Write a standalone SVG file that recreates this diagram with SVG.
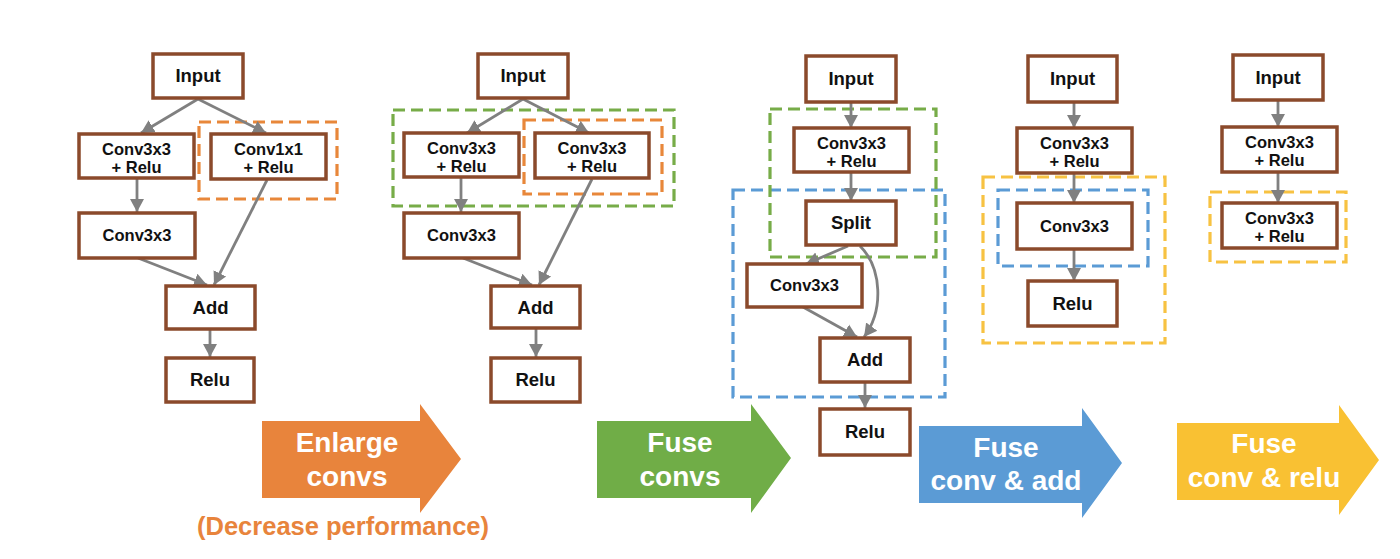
<svg xmlns="http://www.w3.org/2000/svg" width="1400" height="559" viewBox="0 0 1400 559">
<defs>
<marker id="ah" markerUnits="userSpaceOnUse" markerWidth="16" markerHeight="16" viewBox="0 0 16 16" refX="13" refY="8" orient="auto">
<path d="M0,1 L13,8 L0,15 Z" fill="#808080"/>
</marker>
<style>
.n{fill:#fff;stroke:#8B4A2B;stroke-width:3.5}
.t{font-family:"Liberation Sans",Arial,sans-serif;font-weight:bold;fill:#111;text-anchor:middle}
.big{font-size:18.5px}
.sm{font-size:16.5px}
.c{fill:none;stroke:#808080;stroke-width:2.8;marker-end:url(#ah)}
.d{fill:none;stroke-width:3.2;stroke-dasharray:12 6}
.do{stroke:#E8873A}.dg{stroke:#77AC48}.db{stroke:#5B9BD5}.dy{stroke:#F7C242}
.at{font-family:"Liberation Sans",Arial,sans-serif;font-weight:bold;font-size:28px;fill:#fff;text-anchor:middle}
</style>
</defs>
<rect width="1400" height="559" fill="#fff"/>

<g id="groups">
<rect class="d do" x="199" y="122" width="138" height="77"/>
<rect class="d dg" x="393" y="110" width="281" height="96"/>
<rect class="d do" x="524" y="120" width="138" height="74"/>
<rect class="d db" x="733" y="190" width="212" height="207"/>
<rect class="d dg" x="770" y="109" width="166" height="148"/>
<rect class="d dy" x="983" y="177" width="182" height="166"/>
<rect class="d db" x="998" y="190" width="150" height="76"/>
<rect class="d dy" x="1210" y="192" width="136" height="70"/>
</g>

<g id="connectors">
<path class="c" d="M198,99 L141,133"/>
<path class="c" d="M198,99 L266,133"/>
<path class="c" d="M137,178 L137,212"/>
<path class="c" d="M138,258 L207,285"/>
<path class="c" d="M267,180 L214,285"/>
<path class="c" d="M210,330 L210,357"/>

<path class="c" d="M523,99 L467,133"/>
<path class="c" d="M523,99 L589,133"/>
<path class="c" d="M461,177 L461,212"/>
<path class="c" d="M463,258 L532,285"/>
<path class="c" d="M592,179 L539,285"/>
<path class="c" d="M536,328 L536,357"/>

<path class="c" d="M851,102 L851,128"/>
<path class="c" d="M851,172 L851,201"/>
<path class="c" d="M848,246 L806,264"/>
<path class="c" d="M860,246 C882,268 884,310 864,337"/>
<path class="c" d="M803,307 L857,337"/>
<path class="c" d="M865,382 L865,408"/>

<path class="c" d="M1074,102 L1074,128"/>
<path class="c" d="M1074,173 L1074,203"/>
<path class="c" d="M1074,249 L1074,281"/>

<path class="c" d="M1278,100 L1278,127"/>
<path class="c" d="M1278,172 L1278,203"/>
</g>

<g id="in1"><rect class="n" x="153" y="54" width="90" height="44"/><text class="t big" x="198" y="82">Input</text></g>
<g id="c1a"><rect class="n" x="79" y="134" width="115" height="44"/><text class="t sm" x="136.5" y="155">Conv3x3</text><text class="t sm" x="136.5" y="173">+ Relu</text></g>
<g id="c1b"><rect class="n" x="211" y="134" width="115" height="45"/><text class="t sm" x="268.5" y="155">Conv1x1</text><text class="t sm" x="268.5" y="173">+ Relu</text></g>
<g id="c1c"><rect class="n" x="79" y="213" width="116" height="45"/><text class="t sm" x="137" y="241">Conv3x3</text></g>
<g id="add1"><rect class="n" x="166" y="286" width="89" height="43"/><text class="t big" x="210.5" y="314">Add</text></g>
<g id="relu1"><rect class="n" x="166" y="358" width="88" height="44"/><text class="t big" x="210" y="386">Relu</text></g>

<g id="in2"><rect class="n" x="478" y="54" width="90" height="44"/><text class="t big" x="523" y="82">Input</text></g>
<g id="c2a"><rect class="n" x="404" y="133" width="115" height="44"/><text class="t sm" x="461.5" y="154">Conv3x3</text><text class="t sm" x="461.5" y="172">+ Relu</text></g>
<g id="c2b"><rect class="n" x="535" y="133" width="114" height="45"/><text class="t sm" x="592" y="154">Conv3x3</text><text class="t sm" x="592" y="172">+ Relu</text></g>
<g id="c2c"><rect class="n" x="404" y="213" width="115" height="45"/><text class="t sm" x="461.5" y="241">Conv3x3</text></g>
<g id="add2"><rect class="n" x="491" y="286" width="89" height="42"/><text class="t big" x="535.5" y="314">Add</text></g>
<g id="relu2"><rect class="n" x="491" y="358" width="89" height="44"/><text class="t big" x="535.5" y="386">Relu</text></g>

<g id="in3"><rect class="n" x="806" y="56" width="90" height="46"/><text class="t big" x="851" y="85">Input</text></g>
<g id="c3a"><rect class="n" x="794" y="128" width="115" height="44"/><text class="t sm" x="851.5" y="149">Conv3x3</text><text class="t sm" x="851.5" y="167">+ Relu</text></g>
<g id="split3"><rect class="n" x="806" y="201" width="90" height="44"/><text class="t big" x="851" y="229">Split</text></g>
<g id="c3b"><rect class="n" x="747" y="264" width="115" height="43"/><text class="t sm" x="804.5" y="291">Conv3x3</text></g>
<g id="add3"><rect class="n" x="820" y="338" width="90" height="44"/><text class="t big" x="865" y="366">Add</text></g>
<g id="relu3"><rect class="n" x="820" y="409" width="90" height="46"/><text class="t big" x="865" y="438">Relu</text></g>

<g id="in4"><rect class="n" x="1028" y="56" width="89" height="46"/><text class="t big" x="1072.5" y="85">Input</text></g>
<g id="c4a"><rect class="n" x="1017" y="128" width="115" height="45"/><text class="t sm" x="1074.5" y="149">Conv3x3</text><text class="t sm" x="1074.5" y="167">+ Relu</text></g>
<g id="c4b"><rect class="n" x="1017" y="203" width="115" height="46"/><text class="t sm" x="1074.5" y="232">Conv3x3</text></g>
<g id="relu4"><rect class="n" x="1028" y="281" width="89" height="45"/><text class="t big" x="1072.5" y="310">Relu</text></g>

<g id="in5"><rect class="n" x="1233" y="55" width="90" height="45"/><text class="t big" x="1278" y="84">Input</text></g>
<g id="c5a"><rect class="n" x="1222" y="127" width="115" height="45"/><text class="t sm" x="1279.5" y="148">Conv3x3</text><text class="t sm" x="1279.5" y="166">+ Relu</text></g>
<g id="c5b"><rect class="n" x="1222" y="203" width="115" height="45"/><text class="t sm" x="1279.5" y="224">Conv3x3</text><text class="t sm" x="1279.5" y="242">+ Relu</text></g>

<g id="arrow-enlarge">
<path d="M262,421 L420,421 L420,404 L461,459 L420,513 L420,498 L262,498 Z" fill="#E8843C"/>
<text class="at" x="347" y="452">Enlarge</text>
<text class="at" x="347" y="486">convs</text>
<text x="343" y="535" font-family="Liberation Sans, Arial, sans-serif" font-weight="bold" font-size="25.5" fill="#E8843C" text-anchor="middle">(Decrease performance)</text>
</g>
<g id="arrow-fuse-convs">
<path d="M597,421 L751,421 L751,404 L791,458 L751,513 L751,498 L597,498 Z" fill="#70AD47"/>
<text class="at" x="680" y="452">Fuse</text>
<text class="at" x="680" y="486">convs</text>
</g>
<g id="arrow-fuse-add">
<path d="M919,426 L1082,426 L1082,408 L1122,463 L1082,518 L1082,503 L919,503 Z" fill="#5B9BD5"/>
<text class="at" x="1006" y="457">Fuse</text>
<text class="at" x="1006" y="490">conv &amp; add</text>
</g>
<g id="arrow-fuse-relu">
<path d="M1177,423 L1339,423 L1339,405 L1379,460 L1339,515 L1339,500 L1177,500 Z" fill="#F9C133"/>
<text class="at" x="1264" y="453">Fuse</text>
<text class="at" x="1264" y="487">conv &amp; relu</text>
</g>
</svg>
